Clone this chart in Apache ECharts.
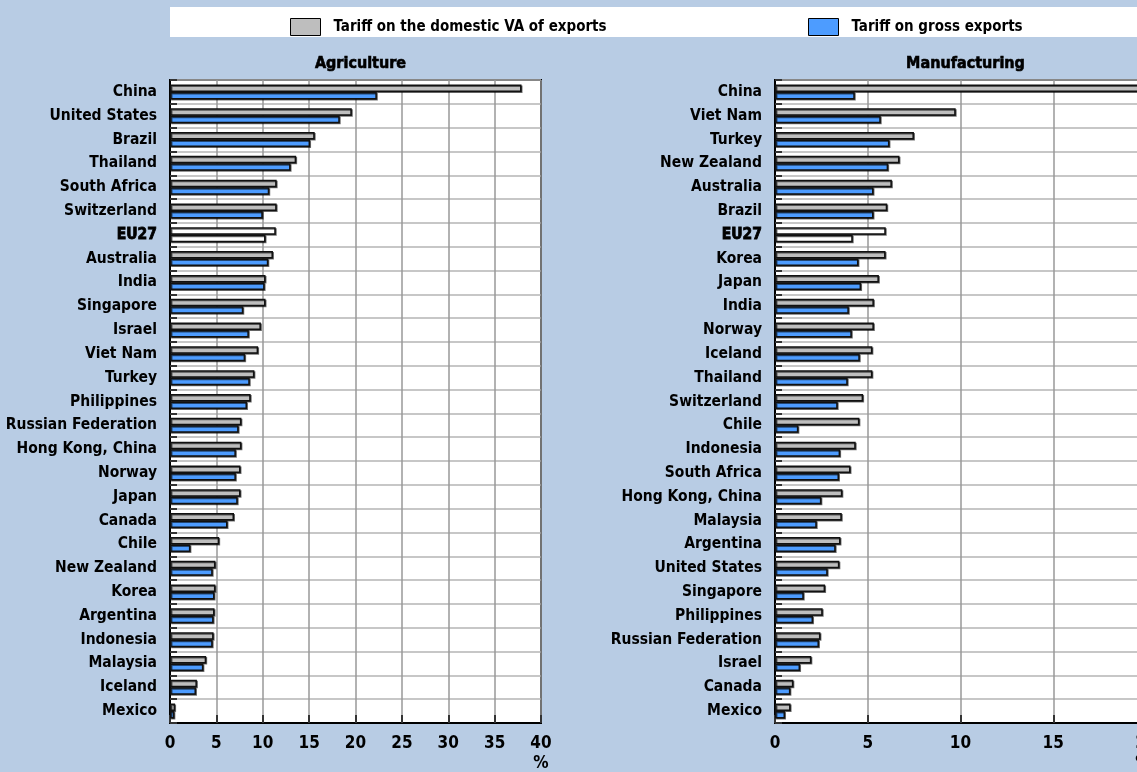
<!DOCTYPE html>
<html><head><meta charset="utf-8">
<script src="https://cdn.jsdelivr.net/npm/echarts@6/dist/echarts.min.js"></script>
<style>html,body{margin:0;padding:0;background:#b8cce4;}#c{width:1137px;height:772px;}</style>
</head><body><div id="c"></div>
<script>
const agriCategories = ["China","United States","Brazil","Thailand","South Africa","Switzerland","EU27","Australia","India","Singapore","Israel","Viet Nam","Turkey","Philippines","Russian Federation","Hong Kong, China","Norway","Japan","Canada","Chile","New Zealand","Korea","Argentina","Indonesia","Malaysia","Iceland","Mexico"];
const agriDomesticVA = [37.9,19.6,15.6,13.6,11.5,11.5,11.4,11.1,10.3,10.3,9.8,9.5,9.1,8.7,7.7,7.7,7.6,7.6,6.9,5.3,4.9,4.9,4.8,4.7,3.9,2.9,0.55];
const agriGross = [22.3,18.3,15.1,13.0,10.7,10.0,10.3,10.6,10.2,7.9,8.5,8.1,8.6,8.3,7.4,7.1,7.1,7.3,6.2,2.2,4.6,4.8,4.7,4.6,3.6,2.8,0.47];

const manuCategories = ["China","Viet Nam","Turkey","New Zealand","Australia","Brazil","EU27","Korea","Japan","India","Norway","Iceland","Thailand","Switzerland","Chile","Indonesia","South Africa","Hong Kong, China","Malaysia","Argentina","United States","Singapore","Philippines","Russian Federation","Israel","Canada","Mexico"];
const manuDomesticVA = [20.5,9.74,7.49,6.71,6.3,6.05,5.97,5.96,5.6,5.33,5.33,5.25,5.25,4.75,4.55,4.35,4.07,3.63,3.6,3.53,3.47,2.7,2.57,2.45,1.96,0.99,0.84];
const manuGross = [4.3,5.7,6.17,6.1,5.31,5.31,4.19,4.5,4.64,3.98,4.14,4.57,3.92,3.38,1.26,3.51,3.45,2.5,2.25,3.27,2.84,1.55,2.05,2.37,1.35,0.83,0.54];

const panelTitles = ["Agriculture","Manufacturing"];
const seriesNames = ["Tariff on the domestic VA of exports","Tariff on gross exports"];
const xMax = [40,20];

const FONT = '"DejaVu Sans Condensed","Liberation Sans Narrow",sans-serif';
const GREY = '#bebebe', BLUE = '#4d9cff';

function mk(values, cats) {
  return values.map((v,i)=> cats[i]==='EU27' ? {value:v, itemStyle:{color:'#ffffff'}} : v);
}

const grids = [
  {left:170, top:80, width:371, height:643},
  {left:775, top:80, width:371, height:643}
];
const catsList = [agriCategories, manuCategories];
const dataList = [[agriDomesticVA, agriGross],[manuDomesticVA, manuGross]];

const option = {
  backgroundColor:'#b8cce4',
  animation:false,
  graphic:[
    {type:'rect', shape:{x:170,y:7,width:967,height:30}, style:{fill:'#ffffff'}, z:-1},
    {type:'text', x:541, y:755, style:{text:'%', font:'bold 17px '+FONT, fill:'#000', textAlign:'center'}},
    {type:'text', x:1143, y:755, style:{text:'%', font:'bold 17px '+FONT, fill:'#000', textAlign:'center'}}
  ],
  title: panelTitles.map((t,i)=>({text:t, left: grids[i].left + grids[i].width/2, top:51, textAlign:'center',
    textStyle:{fontFamily:FONT, fontWeight:'bold', fontSize:16, color:'#000', textBorderColor:'#000', textBorderWidth:0.6}})),
  legend: seriesNames.map((n,i)=>({
    data:[n], left: i===0 ? 285 : 803, top:13, itemWidth:30, itemHeight:17, itemGap:10, icon:'rect',
    selectedMode:false,
    itemStyle:{borderColor:'#000', borderWidth:1},
    textStyle:{fontFamily:FONT, fontWeight:'bold', fontSize:15, color:'#000', padding:[0,0,0,8]}
  })),
  grid: grids.map(g=>Object.assign({show:true, backgroundColor:'#fff', borderColor:'#000', borderWidth:2, outerBoundsMode:'none', containLabel:false}, g)),
  xAxis: [0,1].map(i=>({
    type:'value', gridIndex:i, min:0, max:xMax[i], interval:5,
    axisLine:{show:true, lineStyle:{color:'#000', width:2}},
    axisTick:{show:true, inside:true, length:8, lineStyle:{color:'#333', width:2}},
    splitLine:{show:true, lineStyle:{color:'#999', width:1.5}},
    axisLabel:{fontFamily:FONT, fontWeight:'bold', fontSize:17, color:'#000', margin:12, showMaxLabel:true, hideOverlap:false}
  })),
  yAxis: [0,1].map(i=>({
    type:'category', gridIndex:i, data:catsList[i], inverse:true,
    axisLine:{show:true, lineStyle:{color:'#000', width:2}},
    axisTick:{show:true, inside:true, length:7, lineStyle:{color:'#333', width:2}},
    splitLine:{show:true, lineStyle:{color:'#b4b4b4', width:1.5}},
    axisLabel:{fontFamily:FONT, fontWeight:'bold', fontSize:15.5, color:'#000', margin:13,
      formatter:v=> v==='EU27' ? '{e|'+v+'}' : v,
      rich:{e:{fontFamily:FONT, fontWeight:'bold', fontSize:15.5, color:'#000', textBorderColor:'#000', textBorderWidth:0.8}}}
  })),
  series: []
};
[0,1].forEach(p=>{
  [0,1].forEach(s=>{
    option.series.push({
      type:'bar', name:seriesNames[s], xAxisIndex:p, yAxisIndex:p,
      data: mk(dataList[p][s], catsList[p]),
      barWidth:7.5, barGap:'0%',
      itemStyle:{color: s===0?GREY:BLUE, borderColor:'#111', borderWidth:1.5,
        shadowColor:'rgba(0,0,0,0.55)', shadowOffsetX:1, shadowOffsetY:1, shadowBlur:0},
      clip:true
    });
  });
});
const chart = echarts.init(document.getElementById('c'));
chart.setOption(option);
</script></body></html>
